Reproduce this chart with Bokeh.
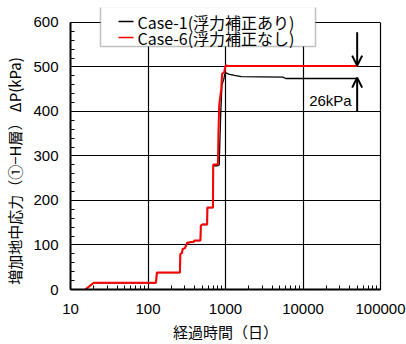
from bokeh.plotting import figure
from bokeh.models import (LogTicker, SingleIntervalTicker, FixedTicker, Arrow, OpenHead,
                          Label, Range1d, BoxAnnotation, LinearAxis)
from bokeh.embed import file_html
from bokeh.resources import INLINE

# Case-1 (浮力補正あり)
t1 = [15.5, 20, 127, 130, 258, 262, 275, 280, 300, 320, 390, 395, 475, 480, 500, 580, 585, 690, 695,
      790, 830, 850, 870, 900, 950, 980, 1000, 1100, 1300, 1600, 5500, 6000, 50000]
p1 = [0, 15, 15, 38, 38, 80, 82, 91, 93, 105, 107, 110, 110, 143, 146, 146, 184, 184, 278,
      278, 280, 345, 400, 460, 472, 485, 487, 484, 481, 478, 477, 474, 474]
# Case-6 (浮力補正なし)
t6 = [15.5, 20, 127, 130, 258, 262, 275, 280, 300, 320, 390, 395, 475, 480, 500, 580, 585, 690, 695,
      790, 800, 810, 830, 880, 905, 960, 1000, 1100, 50000]
p6 = [0, 15, 15, 38, 38, 80, 82, 91, 93, 105, 107, 110, 110, 143, 146, 146, 184, 184, 281,
      281, 285, 350, 415, 450, 485, 487, 503, 502, 502]

x_ticks = [10, 100, 1000, 10000, 100000]
x_tick_labels = ["10", "100", "1000", "10000", "100000"]
y_min, y_max = 0, 600
labels = ["Case-1(浮力補正あり)", "Case-6(浮力補正なし)"]
colors = ["black", "#ff0000"]
diff_label = "26kPa"

JP = "Noto Sans CJK JP"
NUM = "Liberation Sans"

# frame extends 15px above the 600 line so the legend box can overlap the top edge
frame_h = 284
plot_h = 269
p = figure(width=406, height=344, x_axis_type="log", output_backend="svg",
           toolbar_location=None, x_range=Range1d(10, 100000),
           y_range=Range1d(y_min, y_max * frame_h / plot_h),
           min_border_left=70, min_border_right=26, min_border_top=7, min_border_bottom=53)
p.background_fill_color = "white"
p.border_fill_color = "white"
p.outline_line_color = None

p.xaxis.ticker = LogTicker(mantissas=[1], num_minor_ticks=10, desired_num_ticks=5)
p.xaxis.major_label_overrides = {t: s for t, s in zip(x_ticks, x_tick_labels)}
p.yaxis.ticker = SingleIntervalTicker(interval=100, num_minor_ticks=5)
p.yaxis.bounds = (y_min, y_max)

for ax in (p.xaxis[0], p.yaxis[0]):
    ax.axis_line_color = "black"
    ax.axis_line_width = 2
    ax.major_tick_in = 6
    ax.major_tick_out = 0
    ax.minor_tick_in = 4
    ax.minor_tick_out = 0
    ax.major_tick_line_color = "black"
    ax.minor_tick_line_color = "black"
    ax.major_label_text_font = NUM
    ax.major_label_text_font_size = "15px"
    ax.major_label_text_color = "#000000"
    ax.axis_label_text_font = JP
    ax.axis_label_text_font_size = "15px"
    ax.axis_label_text_font_style = "normal"
    ax.axis_label_text_color = "#000000"

p.xaxis.major_label_standoff = 14
p.yaxis.major_label_standoff = 12
p.xaxis.axis_label = "経過時間（日）"
# trailing ideographic spaces shift the centred label down to match the 0..600 area
p.yaxis.axis_label = "増加地中応力（①−H層） ΔP(kPa)\u3000\u3000\u3000"
p.xaxis.axis_label_standoff = 4
p.yaxis.axis_label_standoff = 5

# right frame edge (0..600 only)
right_ax = LinearAxis(bounds=(y_min, y_max), major_tick_in=0, major_tick_out=0,
                      minor_tick_in=0, minor_tick_out=0,
                      axis_line_color="black", axis_line_width=1.2,
                      ticker=FixedTicker(ticks=[]))
p.add_layout(right_ax, "right")

p.xgrid.ticker = p.xaxis[0].ticker
p.xgrid.cross_bounds = (y_min, y_max)
p.xgrid.grid_line_color = "black"
p.ygrid.grid_line_color = "black"
p.xgrid.grid_line_width = 1.2
p.ygrid.grid_line_width = 1.0

r1 = p.line(t1, p1, line_color=colors[0], line_width=1.3)
r6 = p.line(t6, p6, line_color=colors[1], line_width=2)

p.add_layout(Arrow(end=OpenHead(size=10, line_width=2, line_color="black"),
                   x_start=50000, y_start=578, x_end=50000, y_end=503,
                   line_width=2, line_color="black"))
p.add_layout(Arrow(end=OpenHead(size=10, line_width=2, line_color="black"),
                   x_start=50000, y_start=400, x_end=50000, y_end=476,
                   line_width=2, line_color="black"))
p.add_layout(Label(x=42500, y=425, text=diff_label, text_align="right",
                   text_baseline="middle", text_font=NUM, text_font_size="15px",
                   text_color="black"))

# legend box (screen units relative to the frame's bottom-left)
p.add_layout(BoxAnnotation(left=30, right=245, top=283, bottom=243,
                           left_units="screen", right_units="screen",
                           top_units="screen", bottom_units="screen",
                           fill_color="white", fill_alpha=1.0,
                           line_color="#333333", line_width=1.5))
row_y = [268, 252]
for lab, col, yy in zip(labels, colors, row_y):
    p.add_layout(Arrow(end=None, x_start=48, x_end=63, y_start=yy, y_end=yy,
                       start_units="screen", end_units="screen",
                       line_color=col, line_width=1.5))
    p.add_layout(Label(x=67, y=yy, x_units="screen", y_units="screen", text=lab,
                       text_baseline="middle", text_font=JP, text_font_size="16px",
                       text_color="black"))

open("out.html", "w").write(file_html(p, INLINE))
